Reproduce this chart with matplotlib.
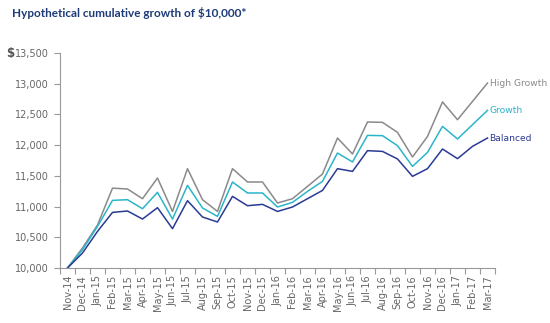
import numpy as np
import matplotlib.pyplot as plt
from matplotlib.ticker import FuncFormatter

# Data
months = ['Nov-14', 'Dec-14', 'Jan-15', 'Feb-15', 'Mar-15', 'Apr-15', 'May-15', 'Jun-15',
          'Jul-15', 'Aug-15', 'Sep-15', 'Oct-15', 'Nov-15', 'Dec-15', 'Jan-16', 'Feb-16',
          'Mar-16', 'Apr-16', 'May-16', 'Jun-16', 'Jul-16', 'Aug-16', 'Sep-16', 'Oct-16',
          'Nov-16', 'Dec-16', 'Jan-17', 'Feb-17', 'Mar-17']
high_growth = [10000, 10326, 10700, 11300, 11286, 11128, 11465, 10921,
               11617, 11112, 10921, 11617, 11400, 11400, 11058, 11128,
               11329, 11530, 12116, 11856, 12377, 12371, 12208, 11807,
               12142, 12703, 12414, 12712, 13011]
growth = [10000, 10298, 10677, 11101, 11112, 10965, 11231, 10797,
          11345, 10977, 10840, 11400, 11221, 11221, 10993, 11068,
          11247, 11410, 11872, 11726, 12159, 12154, 11991, 11654,
          11882, 12305, 12100, 12333, 12566]
balanced = [10000, 10244, 10596, 10905, 10928, 10797, 10982, 10640,
            11096, 10830, 10749, 11166, 11014, 11036, 10921, 10993,
            11128, 11263, 11617, 11573, 11910, 11898, 11775, 11492,
            11617, 11937, 11780, 11980, 12116]
series_names = ['High Growth', 'Growth', 'Balanced']
colors = ['#8a8a8c', '#2bb5c9', '#2b3a94']

fig = plt.figure(figsize=(5.5, 3.23), dpi=100)
ax = fig.add_axes([60 / 550, 1 - 268 / 323, 435 / 550, 215 / 323])

x = np.arange(len(months))
for vals, name, c in zip([high_growth, growth, balanced], series_names, colors):
    ax.plot(x, vals, color=c, lw=1.1)
    ax.annotate(name, (x[-1], vals[-1]), xytext=(1.5, 0), textcoords='offset points',
                ha='left', va='center', color=c, fontsize=6.6, annotation_clip=False)

ax.set_xlim(-0.5, len(months) - 0.5)
ax.set_ylim(10000, 13500)
ax.set_yticks(np.arange(10000, 13501, 500))
ax.yaxis.set_major_formatter(FuncFormatter(lambda v, p: f'{int(v):,}'))
ax.set_xticks(x)
ax.set_xticklabels(months, rotation=90)
ax.set_xticks(np.arange(-0.5, len(months)), minor=True)
ax.tick_params(axis='x', which='major', length=0, pad=5, labelsize=7, labelcolor='#666666')
ax.tick_params(axis='x', which='minor', length=4, color='#999999', width=0.8)
ax.tick_params(axis='y', length=4, color='#999999', width=0.8, pad=4,
               labelsize=7, labelcolor='#666666')

for s in ['top', 'right']:
    ax.spines[s].set_visible(False)
for s in ['left', 'bottom']:
    ax.spines[s].set_color('#999999')
    ax.spines[s].set_linewidth(0.8)

fig.text(12 / 550, 1 - 13 / 323, 'Hypothetical cumulative growth of $10,000*',
         fontsize=8.5, fontweight='bold', color='#1d3b78', va='center', ha='left',
         family='Lato')
fig.text(6 / 550, 1 - 53 / 323, '$', fontsize=8.5, fontweight='bold', color='#555555',
         va='center', ha='left')

fig.savefig('out.png', dpi=100)
